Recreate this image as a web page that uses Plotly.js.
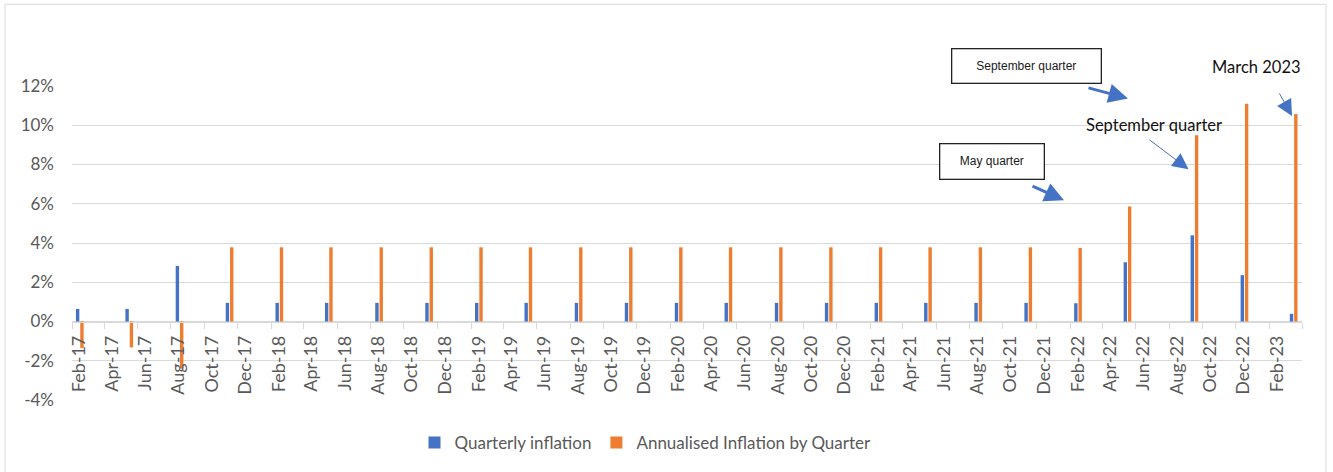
<!DOCTYPE html>
<html><head><meta charset="utf-8">
<script src="https://cdn.plot.ly/plotly-3.0.1.min.js"></script>
<style>html,body{margin:0;padding:0;background:#fff;}#chart{width:1333px;height:472px;}</style>
</head><body><div id="chart"></div>
<script>
// ---- data ----
const quarterMonths = ['2017-02','2017-05','2017-08','2017-11','2018-02','2018-05','2018-08','2018-11',
  '2019-02','2019-05','2019-08','2019-11','2020-02','2020-05','2020-08','2020-11',
  '2021-02','2021-05','2021-08','2021-11','2022-02','2022-05','2022-09','2022-12','2023-03'];
const quarterlyInflation = [0.64,0.64,2.83,0.95,0.95,0.95,0.95,0.95,
  0.95,0.95,0.95,0.95,0.95,0.95,0.95,0.95,
  0.95,0.95,0.95,0.95,0.93,3.02,4.39,2.36,0.39];
const annualisedInflation = [-1.35,-1.32,-2.4,3.78,3.78,3.78,3.78,3.78,
  3.78,3.78,3.78,3.78,3.78,3.78,3.78,3.78,
  3.78,3.78,3.78,3.78,3.75,5.86,9.49,11.1,10.57];
const seriesNames = ['Quarterly inflation','Annualised Inflation by Quarter'];
const yTickValues = [-4,-2,0,2,4,6,8,10,12];
const yTickLabels = ['-4%','-2%','0%','2%','4%','6%','8%','10%','12%'];

// ---- layout helpers (pixel -> paper) ----
const W = 1333, H = 472, ML = 72, MR = 31, MT = 86, MB = 71;
const PW = W - ML - MR, PH = H - MT - MB;
const px = x => (x - ML) / PW;
const py = y => (H - MB - y) / PH;
const DAY = 86400000;
const FONT = 'Lato, "Noto Sans", sans-serif';
const GREY = '#595959';

const traces = [
  {type:'bar', name:seriesNames[0], x:quarterMonths, y:quarterlyInflation,
   xperiod:'M1', xperiodalignment:'middle', width:6.2*DAY, offset:-6.8*DAY,
   marker:{color:'#4472C4'}, hoverinfo:'skip'},
  {type:'bar', name:seriesNames[1], x:quarterMonths, y:annualisedInflation,
   xperiod:'M1', xperiodalignment:'middle', width:6.2*DAY, offset:1.1*DAY,
   marker:{color:'#ED7D31'}, hoverinfo:'skip'}
];

function arrow(hx, hy, tx, ty, w, size){
  return {xref:'paper', yref:'paper', x:px(hx), y:py(hy), ax:tx-hx, ay:ty-hy,
    xanchor:'center', yanchor:'middle',
    text:'', showarrow:true, arrowhead:2, arrowsize:size, arrowwidth:w,
    arrowcolor:'#4472C4', standoff:0, startstandoff:0};
}
function label(cx, cy, text, font, extra){
  return Object.assign({xref:'paper', yref:'paper', x:px(cx), y:py(cy), text:text,
    xanchor:'center', yanchor:'middle', showarrow:false, font:font}, extra || {});
}
const boxFont = {family:'"Liberation Sans", Arial, sans-serif', size:12, color:'#1a1a1a'};
const noteFont = {family:FONT, size:16.5, color:'#111'};

const layout = {
  width:W, height:H,
  margin:{l:ML, r:MR, t:MT, b:MB, pad:0},
  paper_bgcolor:'#fff', plot_bgcolor:'#fff',
  barmode:'overlay',
  showlegend:true,
  legend:{orientation:'h', x:px(645.5), xanchor:'center', xref:'paper', y:py(443), yanchor:'middle',
    font:{family:FONT, size:17, color:GREY}, traceorder:'normal'},
  xaxis:{type:'date', range:['2017-02-01','2023-04-01'], anchor:'free', position:0.25,
    showline:true, linecolor:'#d9d9d9', linewidth:1, showgrid:false, zeroline:false,
    tick0:'2017-02-15', dtick:'M2', tickformat:'%b-%y', ticks:'', tickangle:-90,
    ticklabelstandoff:6,
    tickfont:{family:FONT, size:18, color:GREY}, automargin:false,
    minor:{tick0:'2017-02-01', dtick:'M2', ticks:'outside', ticklen:6, tickwidth:1,
      tickcolor:'#d9d9d9', showgrid:false}},
  yaxis:{range:[-4,12], tickvals:yTickValues, ticktext:yTickLabels,
    showgrid:true, gridcolor:'#d9d9d9', gridwidth:1, zeroline:false, showline:false,
    ticks:'', ticklabelstandoff:17, automargin:false,
    tickfont:{family:FONT, size:17, color:GREY}},
  shapes:[
    {type:'rect', xref:'paper', yref:'paper', x0:px(5), x1:px(1326), y0:py(4), y1:py(490),
     line:{color:'#d9d9d9', width:1}, fillcolor:'rgba(0,0,0,0)', layer:'below'}
  ],
  annotations:[
    label(1026, 65.5, 'September quarter', boxFont,
      {bordercolor:'#222', borderwidth:1.3, borderpad:0, width:148, height:33, bgcolor:'#fff'}),
    label(991.5, 162, 'May quarter', boxFont,
      {bordercolor:'#222', borderwidth:1.3, borderpad:0, width:103, height:34, bgcolor:'#fff'}),
    arrow(1128, 98.5, 1087, 87.5, 3, 1.3),
    arrow(1064, 200.7, 1031, 185.7, 3, 1.3),
    label(1154, 125, 'September quarter', noteFont),
    arrow(1188.5, 169.5, 1148, 139, 1, 3.2),
    label(1256, 66.5, 'March 2023', noteFont),
    arrow(1292, 116, 1278.5, 92, 1, 3.2)
  ]
};

Plotly.newPlot('chart', traces, layout, {displayModeBar:false, staticPlot:true});
</script>
</body></html>
